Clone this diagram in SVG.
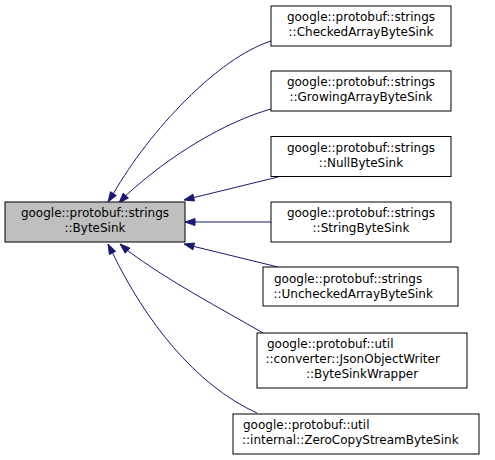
<svg xmlns="http://www.w3.org/2000/svg" width="495" height="460" viewBox="0 0 495 460">
<style>
.n rect{fill:#ffffff;stroke:#000000;stroke-width:1}
#base rect{fill:#bfbfbf}
text{font-family:"DejaVu Sans",sans-serif;font-size:12px;fill:#000000}
.c{text-anchor:middle}
.l{text-anchor:start}
.e path{fill:none;stroke:#191970;stroke-width:1}
.e polygon{fill:#191970;stroke:#191970;stroke-width:1}
</style>
<rect width="495" height="460" fill="#ffffff"/>
<g id="edges" class="e">
<path d="M271,41 C218,58 150,130 113.4,193.6"/>
<polygon points="108,202 116.3,195.5 110.5,191.7"/>
<path d="M271,109 C225,122 170,155 125.8,195.6"/>
<polygon points="119,203 128.4,198 123.2,193.2"/>
<path d="M278,177 L193.7,197.6"/>
<polygon points="184,200 194.5,201 192.9,194.2"/>
<path d="M271,222 L195,222"/>
<polygon points="185,222 195,225.5 195,218.5"/>
<path d="M278,267 L193.7,246.4"/>
<polygon points="184,244 192.9,249.8 194.5,243"/>
<path d="M263,333 C220,308 170,282 127.5,250.6"/>
<polygon points="120,244 129.8,248 125.2,253.2"/>
<path d="M257,413 C195,385 145,320 112.5,252.9"/>
<polygon points="108,244 115.6,251.3 109.4,254.5"/>
</g>
<g id="base" class="n">
<rect x="5" y="202" width="180" height="40"/>
<text class="c" x="95" y="217">google::protobuf::strings</text>
<text class="c" x="95" y="232">::ByteSink</text>
</g>
<g id="checked" class="n">
<rect x="271" y="6" width="180" height="40"/>
<text class="c" x="361" y="21">google::protobuf::strings</text>
<text class="c" x="361" y="36">::CheckedArrayByteSink</text>
</g>
<g id="growing" class="n">
<rect x="271" y="71" width="180" height="40"/>
<text class="c" x="361" y="86">google::protobuf::strings</text>
<text class="c" x="361" y="101">::GrowingArrayByteSink</text>
</g>
<g id="null" class="n">
<rect x="271" y="136.5" width="180" height="40"/>
<text class="c" x="361" y="151.5">google::protobuf::strings</text>
<text class="c" x="361" y="166.5">::NullByteSink</text>
</g>
<g id="string" class="n">
<rect x="271" y="202" width="180" height="40"/>
<text class="c" x="361" y="217">google::protobuf::strings</text>
<text class="c" x="361" y="232">::StringByteSink</text>
</g>
<g id="unchecked" class="n">
<rect x="263" y="267" width="195" height="39"/>
<text class="l" x="274" y="282.5">google::protobuf::strings</text>
<text class="l" x="273.5" y="297.5">::UncheckedArrayByteSink</text>
</g>
<g id="jsonwrapper" class="n">
<rect x="257" y="333" width="210" height="55"/>
<text class="l" x="267" y="348">google::protobuf::util</text>
<text class="l" x="265.5" y="363">::converter::JsonObjectWriter</text>
<text class="c" x="362" y="378">::ByteSinkWrapper</text>
</g>
<g id="zerocopy" class="n">
<rect x="233" y="414" width="246" height="40"/>
<text class="l" x="243" y="429">google::protobuf::util</text>
<text class="l" x="242" y="444">::internal::ZeroCopyStreamByteSink</text>
</g>
</svg>
